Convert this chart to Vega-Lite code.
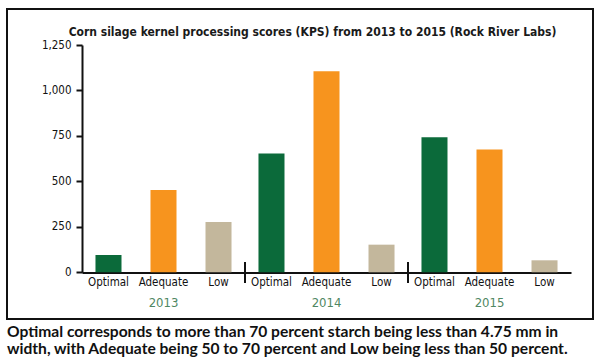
{
  "$schema": "https://vega.github.io/schema/vega-lite/v6.json",
  "width": 586,
  "height": 310,
  "autosize": "none",
  "padding": {"left": 7, "top": 9, "right": 7, "bottom": 43},
  "background": "white",
  "config": {
    "view": {"stroke": "#111111", "strokeWidth": 2},
    "font": "DejaVu Sans Condensed, sans-serif"
  },
  "title": {
    "text": [
      "Optimal corresponds to more than 70 percent starch being less than 4.75 mm in",
      "width, with Adequate being 50 to 70 percent and Low being less than 50 percent."
    ],
    "orient": "bottom",
    "anchor": "start",
    "frame": "group",
    "offset": 6,
    "baseline": "top",
    "font": "Lato, sans-serif",
    "fontWeight": "bold",
    "fontSize": 15.6,
    "lineHeight": 16.5,
    "color": "#111111"
  },
  "datasets": {
    "scores": [
      {"year": "2013", "category": "Optimal", "value": 95},
      {"year": "2013", "category": "Adequate", "value": 453},
      {"year": "2013", "category": "Low", "value": 277},
      {"year": "2014", "category": "Optimal", "value": 653},
      {"year": "2014", "category": "Adequate", "value": 1105},
      {"year": "2014", "category": "Low", "value": 152},
      {"year": "2015", "category": "Optimal", "value": 743},
      {"year": "2015", "category": "Adequate", "value": 675},
      {"year": "2015", "category": "Low", "value": 66}
    ],
    "separators": [
      {"year": "2014"},
      {"year": "2015"}
    ]
  },
  "layer": [
    {
      "data": {"name": "scores"},
      "mark": {"type": "bar"},
      "encoding": {
        "x": {
          "field": "year",
          "type": "nominal",
          "scale": {"range": [75, 564], "paddingInner": 0, "paddingOuter": 0},
          "axis": {
            "title": null,
            "orient": "bottom",
            "offset": -46.5,
            "ticks": false,
            "tickSize": 0,
            "labelAngle": 0,
            "labelPadding": 24,
            "labelBaseline": "top",
            "labelFontSize": 13,
            "labelColor": "#4f8763",
            "domainColor": "#111111",
            "domainWidth": 2
          }
        },
        "xOffset": {
          "field": "category",
          "type": "nominal",
          "sort": ["Optimal", "Adequate", "Low"],
          "scale": {"paddingInner": 0.527, "paddingOuter": 0.245}
        },
        "y": {
          "field": "value",
          "type": "quantitative",
          "scale": {"domain": [0, 1250], "range": [263.3, 36], "nice": false, "zero": true},
          "axis": {
            "values": [0, 250, 500, 750, 1000, 1250],
            "format": ",d",
            "grid": false,
            "offset": -75,
            "tickSize": 6,
            "tickWidth": 2,
            "tickColor": "#111111",
            "domainColor": "#111111",
            "domainWidth": 2,
            "labelPadding": 5,
            "labelFontSize": 11.5,
            "labelColor": "#111111",
            "title": "Corn silage kernel processing scores (KPS) from 2013 to 2015 (Rock River Labs)",
            "titleAngle": 0,
            "titleX": 230,
            "titleY": 26,
            "titleAlign": "center",
            "titleBaseline": "alphabetic",
            "titleFontSize": 12,
            "titleFontWeight": "bold",
            "titleColor": "#1a1a1a"
          }
        },
        "color": {
          "field": "category",
          "type": "nominal",
          "scale": {"domain": ["Optimal", "Adequate", "Low"], "range": ["#0b6a3a", "#f7941e", "#c3b79c"]},
          "legend": null
        }
      }
    },
    {
      "data": {"name": "scores"},
      "mark": {"type": "text", "baseline": "top", "dy": 5, "fontSize": 11.5, "color": "#111111"},
      "encoding": {
        "x": {"field": "year", "type": "nominal"},
        "xOffset": {"field": "category", "type": "nominal", "sort": ["Optimal", "Adequate", "Low"]},
        "y": {"datum": 0},
        "text": {"field": "category"}
      }
    },
    {
      "data": {"name": "separators"},
      "mark": {"type": "rule", "strokeWidth": 2, "color": "#111111"},
      "encoding": {
        "x": {"field": "year", "type": "nominal", "bandPosition": 0},
        "y": {"datum": 57},
        "y2": {"datum": -59}
      }
    }
  ]
}
